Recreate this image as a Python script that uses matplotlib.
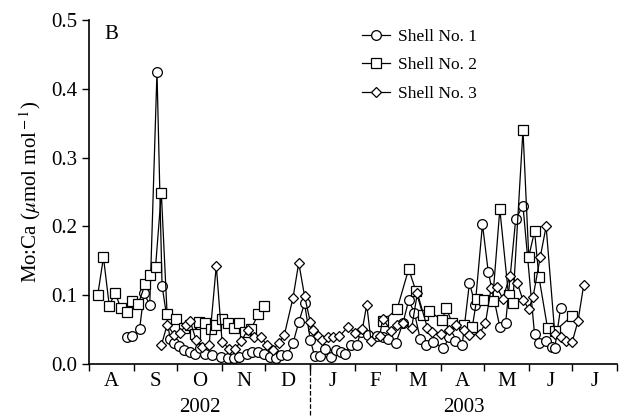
import numpy as np
import matplotlib
matplotlib.use("Agg")
import matplotlib.pyplot as plt
import matplotlib.transforms as mtransforms

plt.rcParams['font.family'] = ['Liberation Serif', 'DejaVu Serif']
plt.rcParams['mathtext.fontset'] = 'stix'

# x = days after 1 Aug 2002, y = Mo:Ca (umol/mol)
shell1_day = [26, 30, 35, 38, 42, 47, 50.5, 56, 59, 62, 66, 70, 73, 77, 80, 85, 91, 96, 100, 104,
              109, 113, 117, 121, 125, 129, 133, 137, 141, 145, 149, 153, 156, 160, 163, 167, 171,
              174, 177, 181, 185, 188, 193, 199, 203, 207, 212, 217, 221, 225, 229, 233, 238, 245,
              249, 253, 258, 263, 267, 272, 276, 284, 288, 295, 300, 308, 311, 316, 320, 322, 326]
shell1_val = [0.039, 0.040, 0.051, 0.103, 0.086, 0.425, 0.114, 0.037, 0.031, 0.026, 0.021, 0.018,
              0.015, 0.023, 0.015, 0.013, 0.010, 0.008, 0.009, 0.010, 0.015, 0.018, 0.018, 0.014,
              0.010, 0.008, 0.013, 0.013, 0.030, 0.061, 0.088, 0.035, 0.011, 0.012, 0.022, 0.010,
              0.020, 0.017, 0.015, 0.028, 0.027, 0.047, 0.042, 0.040, 0.039, 0.037, 0.030, 0.059,
              0.093, 0.074, 0.036, 0.027, 0.032, 0.023, 0.039, 0.034, 0.028, 0.118, 0.086, 0.203,
              0.134, 0.054, 0.059, 0.211, 0.230, 0.043, 0.031, 0.033, 0.025, 0.023, 0.081]

shell2_day = [6, 10, 14, 18, 22, 26, 30, 34, 39, 42, 46, 50, 54, 60, 66, 70, 73, 76, 80, 84, 88,
              92, 96, 100, 104, 108, 112, 117, 121, 160,
              203, 213, 221, 226, 231, 235, 244, 247, 251, 259, 265, 268, 273, 279, 284, 290, 293,
              300, 304, 308, 311, 317, 322, 334]
shell2_val = [0.100, 0.155, 0.085, 0.103, 0.082, 0.075, 0.091, 0.087, 0.117, 0.129, 0.141, 0.249,
              0.072, 0.066, 0.052, 0.057, 0.044, 0.061, 0.060, 0.051, 0.057, 0.065, 0.060, 0.053,
              0.059, 0.047, 0.051, 0.072, 0.085, np.nan,
              0.062, 0.080, 0.138, 0.106, 0.071, 0.077, 0.064, 0.081, 0.060, 0.056, 0.054, 0.094,
              0.093, 0.092, 0.225, 0.100, 0.089, 0.340, 0.156, 0.193, 0.127, 0.052, 0.048, 0.070]

shell3_day = [50, 54, 59, 63, 67, 70, 74, 78, 83, 88, 92, 97, 101, 105, 110, 114, 119, 123, 127,
              131, 135, 141, 145, 149, 153, 155, 158, 161, 165, 169, 173, 179, 184, 189, 192, 195,
              201, 203, 209, 213, 217, 223, 227, 234, 237, 243, 249, 254, 259, 263, 270, 274, 278,
              282, 286, 291, 296, 300, 304, 307, 312, 316, 322, 326, 330, 334, 338, 342]
shell3_val = [0.027, 0.057, 0.042, 0.045, 0.057, 0.062, 0.035, 0.025, 0.027, 0.143, 0.032, 0.022,
              0.022, 0.033, 0.050, 0.039, 0.039, 0.027, 0.020, 0.030, 0.042, 0.096, 0.147, 0.099,
              0.061, 0.049, 0.041, 0.035, 0.039, 0.039, 0.040, 0.054, 0.045, 0.051, 0.086, 0.033,
              0.041, 0.066, 0.048, 0.057, 0.060, 0.052, 0.103, 0.052, 0.047, 0.044, 0.049, 0.057,
              0.050, 0.042, 0.044, 0.059, 0.110, 0.112, 0.095, 0.128, 0.118, 0.093, 0.080, 0.098,
              0.156, 0.200, 0.044, 0.039, 0.033, 0.032, 0.062, 0.115]

month_letters = ['A', 'S', 'O', 'N', 'D', 'J', 'F', 'M', 'A', 'M', 'J', 'J']
years = ['2002', '2003']

start = np.datetime64('2002-08-01')
month_starts = (np.arange('2002-08', '2003-09', dtype='datetime64[M]').astype('datetime64[D]') - start).astype(int)
month_mids = (month_starts[:-1] + month_starts[1:]) / 2.0
new_year = month_starts[5]

fig = plt.figure(figsize=(6.24, 4.16), dpi=100)
ax = fig.add_axes([89 / 624, 52 / 416, 528 / 624, 344 / 416])

style = dict(color='black', lw=0.9, markerfacecolor='white', markeredgecolor='black', markeredgewidth=0.9)
ax.plot(shell1_day, shell1_val, marker='o', ms=7, label='Shell No. 1', **style)
ax.plot(shell2_day, shell2_val, marker='s', ms=6.5, label='Shell No. 2', **style)
ax.plot(shell3_day, shell3_val, marker='D', ms=4.8, label='Shell No. 3', **style)

ax.set_xlim(0, month_starts[-1])
ax.set_ylim(0, 0.5)
ax.set_yticks(np.arange(0, 0.51, 0.1))
ax.set_yticklabels(['%.1f' % t for t in np.arange(0, 0.51, 0.1)])
ax.set_xticks(month_starts)
ax.set_xticklabels([])
ax.set_xticks(month_mids, minor=True)
ax.set_xticklabels(month_letters, minor=True)
ax.tick_params(axis='both', which='major', direction='out', length=5, width=1, labelsize=15)
ax.tick_params(axis='x', which='minor', length=0, labelsize=15, pad=6)

for s in ['top', 'right']:
    ax.spines[s].set_visible(False)
for s in ['left', 'bottom']:
    ax.spines[s].set_linewidth(1.2)

ax.set_ylabel('Mo:Ca ($\\mu$mol mol$^{\\rm -1}$)', fontsize=15, labelpad=6)

trans = mtransforms.blended_transform_factory(ax.transData, ax.transAxes)
ax.plot([new_year, new_year], [0, -0.16], ls='--', color='black', lw=0.9, clip_on=False, transform=trans)
ax.text((month_starts[0] + new_year) / 2, -0.1, years[0], transform=trans, ha='center', va='top', fontsize=15)
ax.text((new_year + month_starts[-1]) / 2, -0.1, years[1], transform=trans, ha='center', va='top', fontsize=15)

ax.text(0.03, 0.985, 'B', transform=ax.transAxes, ha='left', va='top', fontsize=15)

ax.legend(loc='upper left', bbox_to_anchor=(362 / 624, 1 - 29 / 416), bbox_transform=fig.transFigure,
          frameon=False, fontsize=12.5, handlelength=1.6, handletextpad=0.45, labelspacing=0.7,
          borderpad=0, borderaxespad=0)

fig.savefig('out.png', dpi=100)
